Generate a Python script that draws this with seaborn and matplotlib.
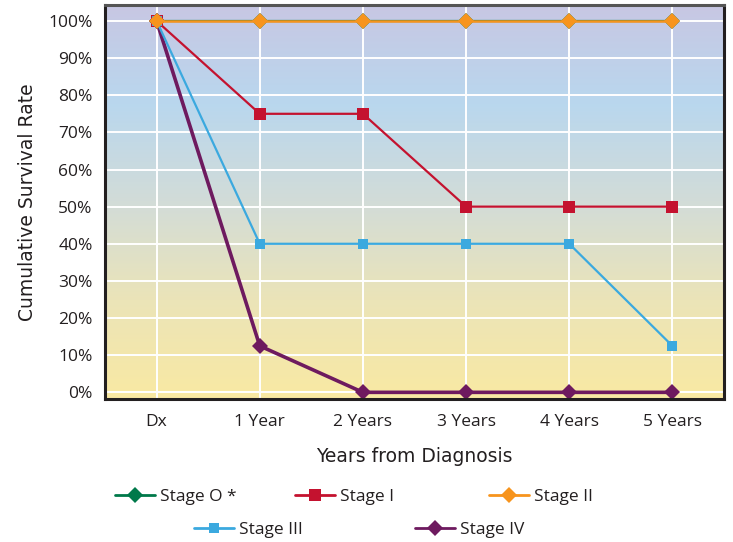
import matplotlib
matplotlib.use("Agg")
import matplotlib.pyplot as plt
from matplotlib.colors import LinearSegmentedColormap
from matplotlib.lines import Line2D
import numpy as np
import pandas as pd
import seaborn as sns

# data
years = ["Dx", "1 Year", "2 Years", "3 Years", "4 Years", "5 Years"]
stage_0 = [100, 100, 100, 100, 100, 100]
stage_1 = [100, 75, 75, 50, 50, 50]
stage_2 = [100, 100, 100, 100, 100, 100]
stage_3 = [100, 40, 40, 40, 40, 12.5]
stage_4 = [100, 12.5, 0, 0, 0, 0]
stage_names = ["Stage O *", "Stage I", "Stage II", "Stage III", "Stage IV"]
yticks = list(range(0, 101, 10))

series = [stage_0, stage_1, stage_2, stage_3, stage_4]
colors = ["#00794a", "#c4122f", "#f7941d", "#3ba9df", "#6e1a5f"]
markers = ["D", "s", "D", "s", "D"]
msizes = [8.5, 8, 8.5, 7.5, 8]
lwidths = [1.6, 1.6, 1.8, 1.6, 2.6]
zorders = [3, 5, 8, 6, 4]

df = pd.concat([pd.DataFrame({"year": years, "rate": s, "stage": n})
                for s, n in zip(series, stage_names)], ignore_index=True)

sns.set_theme(style="white")
plt.rcParams["font.family"] = ["Open Sans", "DejaVu Sans"]
ink = "#231f20"

fig = plt.figure(figsize=(7.33, 5.42), dpi=100)
ax = fig.add_axes([0.1433, 0.2638, 0.8444, 0.727])

# gradient background
grad_cmap = LinearSegmentedColormap.from_list(
    "bg", [(0, "#f9e9a3"), (0.25, "#ebe4b8"), (0.5, "#d2dcd8"),
           (0.75, "#b9d7ee"), (1.0, "#c8c7e3")])
ax.imshow(np.linspace(1, 0, 256).reshape(-1, 1), cmap=grad_cmap,
          extent=[0, 1, 0, 1], transform=ax.transAxes, aspect="auto",
          zorder=0, interpolation="bicubic")

for i, name in enumerate(stage_names):
    sns.lineplot(data=df[df.stage == name], x="year", y="rate", ax=ax,
                 color=colors[i], marker=markers[i], markersize=msizes[i],
                 markeredgewidth=0, linewidth=lwidths[i], zorder=zorders[i],
                 legend=False)

ax.set_xlim(-0.5, 5.5)
ax.set_ylim(-1.8, 104.3)
ax.set_xticks(range(len(years)))
ax.set_xticklabels(years)
ax.set_yticks(yticks)
ax.set_yticklabels([f"{t}%" for t in yticks])
ax.grid(True, color="white", linewidth=1.4)
for gl in ax.get_xgridlines() + ax.get_ygridlines():
    gl.set_zorder(1)
ax.tick_params(axis="both", length=0, labelsize=12.5, colors=ink, pad=9)
ax.tick_params(axis="x", pad=11)
for sp in ax.spines.values():
    sp.set_color(ink)
    sp.set_linewidth(2.2)
    sp.set_zorder(10)
ax.spines["top"].set_color("#555555")

ax.set_xlabel("Years from Diagnosis", fontsize=13.5, color=ink, labelpad=12,
              family="DejaVu Sans")
ax.set_ylabel("Cumulative Survival Rate", fontsize=13.5, color=ink,
              labelpad=8, family="DejaVu Sans")

# legend, one entry per slot to match the two-row layout
slots = [(115, 497), (295, 497), (489, 497), (194, 530), (415, 530)]
W, H = 733, 542
for i, name in enumerate(stage_names):
    h = Line2D([], [], color=colors[i], marker=markers[i], markersize=msizes[i],
               markeredgewidth=0, linewidth=2)
    fig.legend(handles=[h], labels=[name], loc="center left",
               bbox_to_anchor=(slots[i][0] / W, 1 - slots[i][1] / H),
               frameon=False, fontsize=12.5, handlelength=2.3,
               handletextpad=0.3, borderpad=0, borderaxespad=0,
               labelcolor=ink)

fig.savefig("out.png", dpi=100)
